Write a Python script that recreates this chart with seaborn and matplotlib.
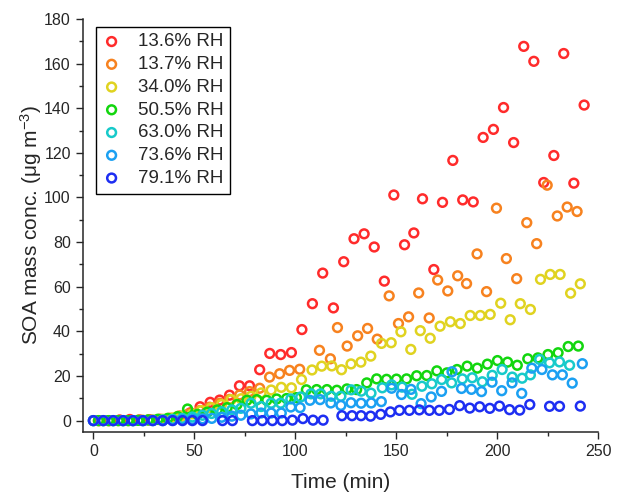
import numpy as np
import pandas as pd
import seaborn as sns
import matplotlib.pyplot as plt
from matplotlib.ticker import MultipleLocator

# SOA mass concentration (ug m-3) vs time (min) for each RH experiment
rh_labels = ["13.6% RH", "13.7% RH", "34.0% RH", "50.5% RH", "63.0% RH", "73.6% RH", "79.1% RH"]
colors = ["#FF2B2B", "#F7821F", "#E0D320", "#12D60E", "#17CACA", "#1BA0F2", "#1D2EF2"]

t_136 = [3, 8, 13, 18, 23, 28, 33, 38, 43, 48, 52.8, 57.8, 62.5, 67.4, 72.3, 77.3, 82.3, 87.3, 92.7, 98,
         103.2, 108.4, 113.5, 118.8, 123.9, 129, 134, 139, 144, 148.7, 154, 158.6, 162.9, 168.5, 172.8,
         177.9, 182.8, 188, 192.9, 198, 203, 208, 213, 218, 222.9, 227.9, 232.8, 237.8, 242.9]
v_136 = [0, 0, 0.3, 0.5, 0.3, 0.4, 0.6, 1.0, 2.0, 3.5, 6.2, 8.2, 9.2, 11.4, 15.6, 15.6, 22.8, 30.1, 29.6, 30.5,
         40.8, 52.4, 66.1, 50.5, 71.2, 81.5, 83.7, 77.8, 62.5, 101.1, 78.8, 84.1, 99.4, 67.7, 97.8,
         116.6, 98.9, 98.0, 126.9, 130.5, 140.3, 124.6, 167.7, 161.0, 106.7, 118.8, 164.5, 106.4, 141.4]

t_137 = [2.5, 7.5, 12.4, 17.4, 22.3, 27.3, 32.2, 37.2, 42.1, 47.1, 52.6, 57.5, 62.5, 67.4, 72.4, 77.3, 82.3,
         87.2, 92.2, 97.1, 102.1, 111.9, 117.3, 120.8, 125.6, 130.8, 135.7, 140.5, 146.4, 151, 156, 161,
         166.2, 170.4, 175.4, 180.3, 184.7, 189.9, 194.6, 199.5, 204.4, 209.5, 214.5, 219.4, 224.6, 229.6,
         234.5, 239.4]
v_137 = [0, 0, 0, 0, 0.2, 0.3, 0.5, 1, 2, 3, 4.5, 6, 7.8, 9.5, 11.5, 13, 14.5,
         19.5, 21, 22.5, 23, 31.5, 27.7, 41.7, 33.4, 38, 41.3, 36.5, 55.9, 43.5, 46.5, 57.2,
         46, 63, 58.1, 64.9, 61.4, 74.7, 57.8, 95.2, 72.6, 63.6, 88.7, 79.3, 105.5, 91.7,
         95.7, 93.7]

t_340 = [0, 4.9, 9.8, 14.7, 19.6, 24.5, 29.4, 34.3, 39.2, 44, 49, 53.5, 58.4, 63.4, 68.2, 73.1, 78, 83, 88,
         93, 98, 103, 108.2, 113, 118, 122.8, 127.5, 132.4, 137.3, 142.6, 147.4, 152.2, 157.1, 161.8,
         166.7, 171.6, 176.7, 181.6, 186.5, 191.5, 196.4, 201.6, 206.3, 211.3, 216.3, 221.3, 226.1, 231,
         236.2, 241]
v_340 = [0, 0, 0, 0, 0, 0.2, 0.3, 0.6, 1.2, 2, 3, 4.5, 5.8, 7.2, 9.4, 9.8, 10.9, 12.4, 13.7,
         14.9, 14.7, 18.4, 22.7, 24.4, 24.5, 22.8, 25.4, 26.2, 28.9, 34.6, 34.9, 39.8, 31.9, 40.3,
         36.9, 42.3, 44.3, 43.5, 47.1, 47.1, 47.6, 52.6, 45.2, 52.4, 49.8, 63.3, 65.5, 65.5,
         57.1, 61.3]

t_505 = [2.5, 7.4, 12.3, 17.2, 22.1, 27, 31.9, 36.8, 41.7, 46.6, 51.5, 56.4, 61.3, 66.2, 71.1, 76, 80.9,
         85.8, 90.7, 95.6, 100.5, 105.4, 110.5, 115.6, 120.5, 125.5, 130.3, 135.3, 140.2, 145.1, 150,
         155, 160, 165, 170, 175, 180, 185, 190, 195, 200, 205, 209.8, 215, 220, 225, 230, 235, 240]
v_505 = [0, 0, 0, 0, 0.1, 0.3, 0.6, 1.0, 1.8, 5.2, 2.8, 3.8, 4.8, 5.8, 7.2, 9.1, 9.4,
         9.1, 9.7, 9.9, 10.3, 13.8, 13.9, 13.9, 13.6, 14.2, 13.9, 16.9, 18.7, 18.5, 18.6,
         18.7, 20.1, 20.2, 22.3, 21.4, 22.9, 24.4, 23.5, 25.3, 26.9, 26.2, 24.8, 27.7, 28.1, 29.6, 30.4, 33.2, 33.4]

t_630 = [0, 4.9, 9.8, 14.7, 19.6, 24.5, 29.4, 34.3, 39.2, 44, 49, 54, 58.5, 63.5, 68.5, 73, 78, 83, 88,
         92.7, 97.7, 102.6, 107.7, 112.5, 117.7, 122.5, 127.6, 132.6, 137.4, 143, 147.6, 152.8, 157.7,
         162.6, 167.5, 172.4, 177.3, 182.6, 187.5, 192.5, 197.4, 202.3, 207.3, 212.2, 216.3, 220.9,
         225.8, 230.7, 235.7]
v_630 = [0, 0, 0, 0, 0, 0, 0.1, 0.3, 0.6, 1, 1.6, 2.4, 3.2, 4, 4.8, 5.5, 7.8, 6.3, 7.8,
         7.8, 9.7, 10.6, 12, 12, 10.9, 10.9, 13.8, 13.2, 12.3, 14.7, 16, 15, 11.8,
         15.4, 16.5, 18.4, 16.9, 18.7, 19.2, 17.4, 20.3, 22.9, 19.5, 19, 20.5, 27.4,
         25.9, 26.3, 24.8]

t_736 = [0, 4.9, 9.8, 14.7, 19.6, 24.5, 29.4, 34.3, 39.2, 44, 49, 54, 58.6, 63.5, 68.5, 73, 78, 83, 88,
         93, 97.7, 102.3, 107.2, 112.2, 117.5, 122.5, 127.5, 132.5, 137.5, 142.5, 147.6, 152.5, 157.2,
         162.2, 167.2, 172.3, 177.5, 182.2, 187.1, 192.1, 197.3, 202.1, 207.2, 212, 217, 222, 227.2,
         232.1, 237, 242]
v_736 = [0, 0, 0, 0, 0, 0, 0, 0, 0.1, 0.3, 0.5, 0.8, 1.0, 1.5, 2, 2.4, 3.0, 3.4, 3.4,
         3.4, 6.1, 5.8, 9.1, 9.4, 7.9, 6.8, 8.0, 7.8, 7.9, 8.5, 14.5, 11.7, 14,
         7.6, 10.6, 13.1, 21.9, 14.4, 14, 13, 17.2, 13.4, 16.9, 12.2, 23.5, 22.9, 20.5,
         20.5, 16.8, 25.5]

t_791 = [0, 4.9, 9.8, 14.7, 19.6, 24.5, 29.4, 34.3, 39.2, 44.1, 49, 54, 63.9, 68.8, 78.7, 83.6, 88.6,
         93.5, 98.5, 103.7, 108.7, 113.7, 123, 128, 132.5, 137.2, 142.2, 147, 151.5, 156.4, 161.3,
         166.3, 171.2, 176.2, 181.3, 186.3, 191.2, 196.2, 201, 206, 211, 216, 225.8, 230.7, 241]
v_791 = [0, 0, 0, 0, 0, 0, 0, 0, 0, 0, 0, 0, 0, 0, 0, 0, 0,
         0, 0.2, 0.9, 0.2, 0.2, 2.2, 2.2, 2.2, 2.0, 2.8, 3.9, 4.6, 4.6, 4.8,
         4.6, 4.6, 5.0, 6.7, 5.6, 6.2, 5.5, 6.5, 4.9, 4.7, 7.2, 6.4, 6.4, 6.5]

times = [t_136, t_137, t_340, t_505, t_630, t_736, t_791]
values = [v_136, v_137, v_340, v_505, v_630, v_736, v_791]

df = pd.concat([pd.DataFrame({"Time": t, "SOA": v, "RH": lab})
                for t, v, lab in zip(times, values, rh_labels)], ignore_index=True)

sns.set_style("ticks")
plt.rcParams["font.family"] = ["Liberation Sans", "DejaVu Sans"]
plt.rcParams["mathtext.fontset"] = "custom"
plt.rcParams["mathtext.rm"] = "Liberation Sans"
plt.rcParams["mathtext.it"] = "Liberation Sans:italic"
plt.rcParams["mathtext.bf"] = "Liberation Sans:bold"

fig = plt.figure(figsize=(6.17, 4.98), dpi=100)
ax = fig.add_axes([0.135, 0.133, 0.835, 0.829])

for lab, col in zip(rh_labels, colors):
    sub = df[df["RH"] == lab]
    sns.scatterplot(data=sub, x="Time", y="SOA", ax=ax, marker="o", s=40,
                    facecolors="none", edgecolor=col, linewidth=1.8, label=lab)

ax.set_xlim(-5, 250)
ax.set_ylim(-5, 180)
ax.xaxis.set_major_locator(MultipleLocator(50))
ax.xaxis.set_minor_locator(MultipleLocator(25))
ax.yaxis.set_major_locator(MultipleLocator(20))
ax.yaxis.set_minor_locator(MultipleLocator(10))
ax.tick_params(which="major", direction="out", length=5, width=1, labelsize=11.5, pad=4)
ax.tick_params(which="minor", direction="out", length=3, width=1)
sns.despine(ax=ax)
for sp in ["left", "bottom"]:
    ax.spines[sp].set_linewidth(1.1)

ax.set_xlabel("Time (min)", fontsize=15, labelpad=10)
ax.set_ylabel("SOA mass conc. (μg m$^{-3}$)", fontsize=15, labelpad=0)

leg = ax.legend(loc="upper left", bbox_to_anchor=(0.024, 0.981), borderaxespad=0,
                fontsize=13.5, frameon=True, fancybox=False, framealpha=1,
                edgecolor="black", handlelength=1.0, handletextpad=0.9,
                labelspacing=0.3, borderpad=0.35, scatterpoints=1)
leg.get_frame().set_linewidth(1.0)

fig.savefig("out.png", dpi=100, facecolor="white")
